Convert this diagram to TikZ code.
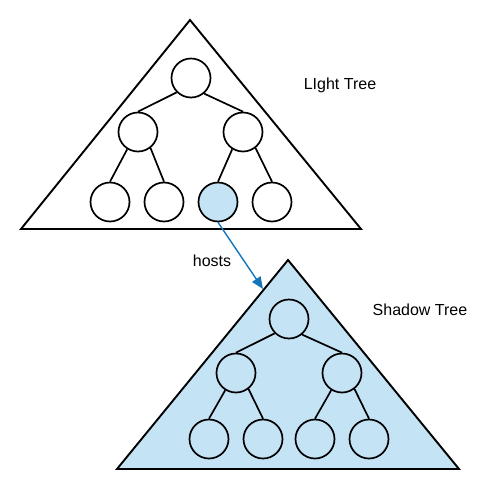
\documentclass[tikz,border=0pt]{standalone}
\usepackage{fontspec}
\setmainfont{Liberation Sans}
\usetikzlibrary{arrows.meta}
\definecolor{lblue}{RGB}{196,227,245}
\definecolor{abl}{RGB}{20,117,187}
\begin{document}
\begin{tikzpicture}[x=1pt,y=-1pt,
  tnode/.style={circle,draw=black,line width=1.7pt,minimum size=39pt,inner sep=0pt},
  tri/.style={draw=black,line width=1.9pt,line join=miter},
  tedge/.style={draw=black,line width=1.7pt},
  lbl/.style={font=\fontsize{16}{18}\selectfont}]
\useasboundingbox (0,0) rectangle (498,490);
% top triangle
\draw[tri,fill=white] (190,20) -- (361,229) -- (21,229) -- cycle;
\node[tnode] (r) at (191,78) {};
\node[tnode] (a) at (138,132) {};
\node[tnode] (b) at (243,132) {};
\node[tnode] (a1) at (110,202) {};
\node[tnode] (a2) at (164,202) {};
\node[tnode,fill=lblue] (b1) at (218,202) {};
\node[tnode] (b2) at (272,202) {};
\draw[tedge] (r.225) -- (a.north);
\draw[tedge] (r.310) -- (b.north);
\draw[tedge] (a.238) -- (a1.north);
\draw[tedge] (a.308) -- (a2.north);
\draw[tedge] (b.238) -- (b1.north);
\draw[tedge] (b.308) -- (b2.north);
\node[lbl] (t1) at (340,85) {LIght Tree};
% bottom triangle
\draw[tri,fill=lblue] (288,260) -- (459,469) -- (117,469) -- cycle;
\coordinate (tip) at (263,289);
\node[tnode] (R) at (289,319) {};
\node[tnode] (A) at (236,373) {};
\node[tnode] (B) at (342,373) {};
\node[tnode] (A1) at (209,439) {};
\node[tnode] (A2) at (263,439) {};
\node[tnode] (B1) at (315,439) {};
\node[tnode] (B2) at (369,439) {};
\draw[tedge] (R.225) -- (A.north);
\draw[tedge] (R.310) -- (B.north);
\draw[tedge] (A.238) -- (A1.north);
\draw[tedge] (A.308) -- (A2.north);
\draw[tedge] (B.238) -- (B1.north);
\draw[tedge] (B.308) -- (B2.north);
\node[lbl] (t2) at (420,310) {Shadow Tree};
% arrow
\draw[abl,line width=1.4pt,-{Triangle[length=12pt,width=10pt]}] (b1.south) -- (tip);
\node[lbl] (h) at (212,261) {hosts};
\end{tikzpicture}
\end{document}
